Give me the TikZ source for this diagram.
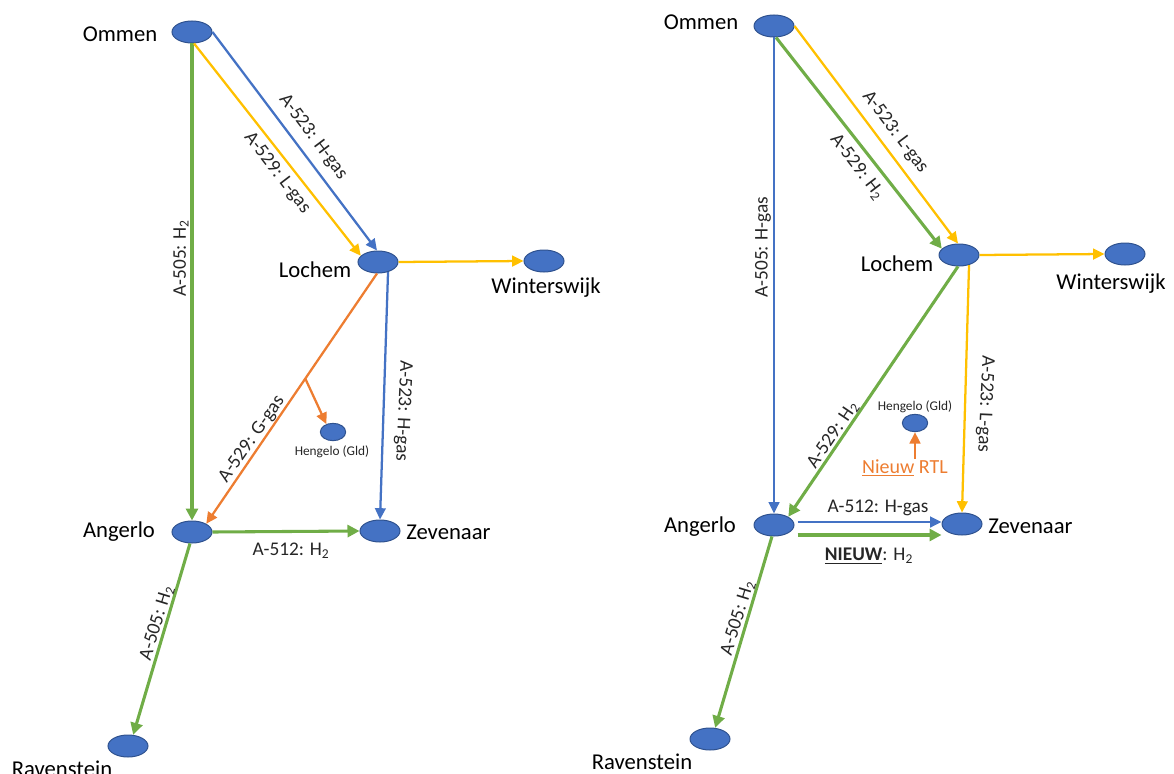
\documentclass[tikz,border=0pt]{standalone}
\usepackage{fontspec}
\setmainfont{Carlito}
\usetikzlibrary{shapes.geometric,arrows.meta,calc}
\definecolor{nodeblue}{HTML}{4472C4}
\definecolor{nodeedge}{HTML}{2F528F}
\definecolor{gblue}{HTML}{4472C4}
\definecolor{ggreen}{HTML}{70AD47}
\definecolor{gyellow}{HTML}{FFC000}
\definecolor{gorange}{HTML}{ED7D31}
\begin{document}
\begin{tikzpicture}[x=0.75pt,y=-0.75pt,
  station/.style={ellipse,fill=nodeblue,draw=nodeedge,line width=0.75pt,minimum width=30pt,minimum height=16.5pt,inner sep=0pt},
  hstation/.style={station,minimum width=19pt,minimum height=13pt},
  city/.style={font=\fontsize{17}{20}\selectfont,inner sep=0pt,text=black},
  elabel/.style={font=\fontsize{14.5}{17}\selectfont,inner sep=0pt,text=black!85},
  slabel/.style={font=\fontsize{10}{12}\selectfont,inner sep=0pt,text=black!85},
  pipe/.style={line width=1.7pt,-{Triangle[length=8.5pt,width=8pt]}},
  hpipe/.style={line width=2.3pt,-{Triangle[length=9pt,width=9pt]}},
  bluepipe/.style={pipe,draw=gblue,color=gblue},
  yellowpipe/.style={pipe,draw=gyellow,color=gyellow},
  orangepipe/.style={pipe,draw=gorange,color=gorange},
  greenpipe/.style={hpipe,draw=ggreen,color=ggreen}
]
\useasboundingbox (0,0) rectangle (1174,774);

% ---------------- LEFT ----------------
\node[station] (omL) at (192,32) {};
\node[station] (loL) at (378,262) {};
\node[station] (wiL) at (544,261) {};
\node[station] (anL) at (192,532) {};
\node[station] (zeL) at (380,531) {};
\node[station] (raL) at (128,746) {};
\node[hstation] (hgL) at (333,432) {};

\node[city] (tomL) at (120,34) {Ommen};
\node[city] (tloL) at (315,270) {Lochem};
\node[city] (twiL) at (546,288) {Winterswijk};
\node[city] (tanL) at (119,532) {Angerlo};
\node[city,anchor=west] (tzeL) at (406,532) {Zevenaar};
\node[city] (traL) at (62,769) {Ravenstein};
\node[slabel] (thgL) at (332,452) {Hengelo (Gld)};

\draw[greenpipe] (omL.south) -- (anL.north);
\draw[bluepipe] (omL.east) -- (loL.95);
\draw[yellowpipe] (omL.-80) -- (loL.160);
\draw[yellowpipe] (loL.east) -- (wiL.west);
\draw[orangepipe] (loL.-95) -- coordinate[pos=0.42] (brL) (anL.30);
\draw[orangepipe] (brL) -- (hgL.130);
\draw[bluepipe] (loL.-45) -- (zeL.north);
\draw[greenpipe] (anL.east) -- (zeL.west);
\draw[greenpipe] (anL.-100) -- (raL.65);

\node[elabel,rotate=90] (l1) at (181,258) {A-505: H\textsubscript{2}};
\node[elabel,rotate=-53] (l2) at (313,137) {A-523: H-gas};
\node[elabel,rotate=-52.5] (l3) at (277,173) {A-529: L-gas};
\node[elabel,rotate=55] (l4) at (252,439) {A-529: G-gas};
\node[elabel,rotate=-92.5] (l5) at (403,411) {A-523: H-gas};
\node[elabel] (l6) at (291,551) {A-512: H\textsubscript{2}};
\node[elabel,rotate=73] (l7) at (157,623) {A-505: H\textsubscript{2}};

% ---------------- RIGHT ----------------
\node[station] (omR) at (774,26) {};
\node[station] (loR) at (959,255) {};
\node[station] (wiR) at (1125,254) {};
\node[station] (anR) at (774,525) {};
\node[station] (zeR) at (962,524) {};
\node[station] (raR) at (710,739) {};
\node[hstation] (hgR) at (915,423) {};

\node[city] (tomR) at (701,22) {Ommen};
\node[city] (tloR) at (897,264) {Lochem};
\node[city] (twiR) at (1111,284) {Winterswijk};
\node[city] (tanR) at (700,527) {Angerlo};
\node[city,anchor=west] (tzeR) at (988,526) {Zevenaar};
\node[city] (traR) at (642,762) {Ravenstein};
\node[slabel] (thgR) at (915,407) {Hengelo (Gld)};
\node[font=\fontsize{15}{18}\selectfont,inner sep=0pt,text=gorange] (nrtl) at (905,468) {\underline{Nieuw} RTL};
\coordinate (nrtlTop) at (915,459);

\draw[bluepipe] (omR.south) -- (anR.north);
\draw[yellowpipe] (omR.east) -- (loR.95);
\draw[greenpipe] (omR.-80) -- (loR.160);
\draw[yellowpipe] (loR.east) -- (wiR.west);
\draw[greenpipe] (loR.-95) -- (anR.30);
\draw[yellowpipe] (loR.-45) -- (zeR.north);
\draw[bluepipe] ($(anR.east)+(3,-3)$) -- ($(zeR.west)+(0,-2)$);
\draw[greenpipe] ($(anR.east)+(3,10)$) -- ($(zeR.west)+(0,11)$);
\draw[greenpipe] (anR.-100) -- (raR.65);
\draw[orangepipe] (nrtlTop) -- (hgR.south);

\node[elabel,rotate=90] (r1) at (763,247) {A-505: H-gas};
\node[elabel,rotate=-53] (r2) at (895,132) {A-523: L-gas};
\node[elabel,rotate=-52.5] (r3) at (857,167) {A-529: H\textsubscript{2}};
\node[elabel,rotate=56] (r4) at (833,435) {A-529: H\textsubscript{2}};
\node[elabel,rotate=-92.5] (r5) at (985,404) {A-523: L-gas};
\node[elabel] (r6) at (878,508) {A-512: H-gas};
\node[elabel] (r7) at (869,556) {\underline{\textbf{NIEUW}}: H\textsubscript{2}};
\node[elabel,rotate=73] (r8) at (738,618) {A-505: H\textsubscript{2}};
\end{tikzpicture}
\end{document}
